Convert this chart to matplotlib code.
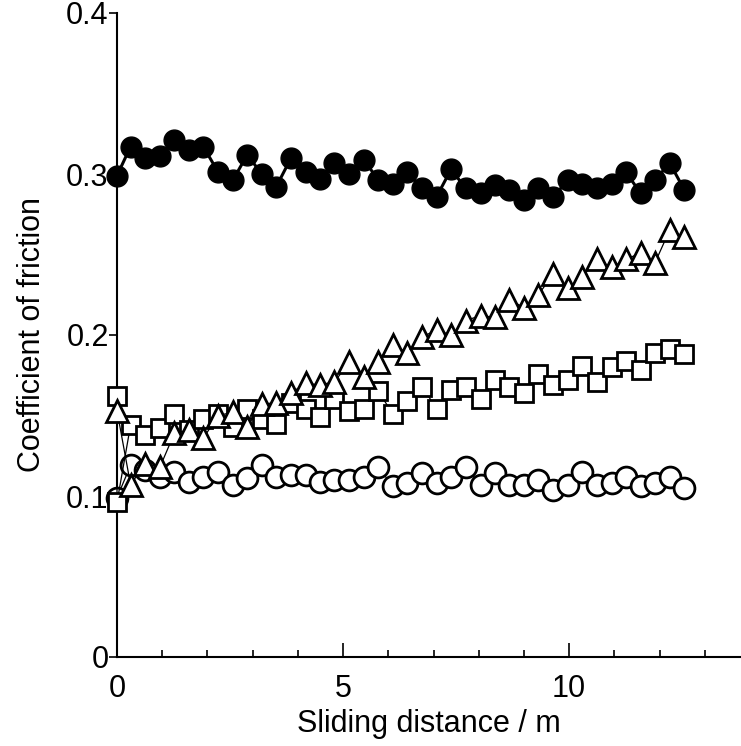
import numpy as np
import matplotlib.pyplot as plt

plt.rcParams['font.family'] = ['Liberation Sans', 'DejaVu Sans']

# sliding distance / m
x = [0, 0.30, 0.62, 0.95, 1.27, 1.59, 1.91, 2.24, 2.56, 2.88,
     3.20, 3.52, 3.85, 4.17, 4.49, 4.81, 5.14, 5.46, 5.78, 6.10,
     6.42, 6.75, 7.07, 7.39, 7.71, 8.04, 8.36, 8.68, 9.00, 9.32,
     9.65, 9.97, 10.29, 10.61, 10.94, 11.26, 11.58, 11.90, 12.22, 12.55]
# squares have two readings at 0
x_sq = [0] + x

mu_filled = [0.299, 0.317, 0.310, 0.311, 0.321, 0.315, 0.317, 0.301, 0.296, 0.312,
             0.300, 0.292, 0.310, 0.301, 0.297, 0.307, 0.300, 0.309, 0.296, 0.294,
             0.301, 0.291, 0.286, 0.303, 0.291, 0.288, 0.293, 0.290, 0.284, 0.291,
             0.286, 0.296, 0.294, 0.291, 0.294, 0.301, 0.288, 0.296, 0.307, 0.290]

mu_circle = [0.099, 0.119, 0.116, 0.112, 0.115, 0.109, 0.112, 0.115, 0.107, 0.111,
             0.119, 0.112, 0.113, 0.113, 0.109, 0.110, 0.110, 0.112, 0.118, 0.106,
             0.108, 0.114, 0.108, 0.112, 0.118, 0.107, 0.114, 0.107, 0.107, 0.110,
             0.104, 0.107, 0.115, 0.107, 0.108, 0.112, 0.106, 0.108, 0.112, 0.105]

mu_square = [0.162, 0.096,
             0.144, 0.138, 0.142, 0.151, 0.141, 0.148, 0.151, 0.143, 0.154, 0.148,
             0.145, 0.158, 0.154, 0.149, 0.160, 0.153, 0.154, 0.165, 0.151, 0.159,
             0.168, 0.154, 0.166, 0.168, 0.160, 0.172, 0.168, 0.164, 0.176, 0.169,
             0.172, 0.181, 0.171, 0.180, 0.184, 0.178, 0.189, 0.191, 0.188]

mu_tri = [0.153, 0.107, 0.120, 0.118, 0.139, 0.141, 0.136, 0.150, 0.152, 0.143,
          0.157, 0.158, 0.164, 0.170, 0.169, 0.171, 0.183, 0.174, 0.183, 0.194,
          0.189, 0.199, 0.203, 0.200, 0.209, 0.212, 0.211, 0.222, 0.217, 0.225,
          0.238, 0.229, 0.236, 0.247, 0.242, 0.247, 0.251, 0.245, 0.265, 0.261]

fig = plt.figure(figsize=(7.41, 7.46), dpi=100)
ax = fig.add_axes([117/741, 89/746, 624/741, 644/746])

ax.plot(x, mu_filled, '-o', color='k', lw=2.2, ms=15, mec='k', mfc='k', clip_on=False, zorder=5)
ax.plot(x, mu_circle, '-o', color='k', lw=0.9, ms=15, mew=2.0, mfc='w', clip_on=False, zorder=3)
ax.plot(x_sq, mu_square, '-s', color='k', lw=0.9, ms=12.5, mew=2.0, mfc='w', clip_on=False, zorder=3.5)
ax.plot(x, mu_tri, '-^', color='k', lw=0.9, ms=16, mew=2.0, mfc='w', clip_on=False, zorder=4)

ax.set_xlim(0, 13.8)
ax.set_ylim(0, 0.4)
ax.set_xticks([0, 5, 10])
ax.set_xticks(np.arange(0, 14, 1), minor=True)
ax.set_yticks([0, 0.1, 0.2, 0.3, 0.4])
ax.set_yticklabels(['0', '0.1', '0.2', '0.3', '0.4'])

for s in ['top', 'right']:
    ax.spines[s].set_visible(False)
for s in ['left', 'bottom']:
    ax.spines[s].set_linewidth(1.5)

ax.tick_params(axis='x', which='major', direction='in', length=10, width=1.2, labelsize=22, pad=12)
ax.tick_params(axis='x', which='minor', direction='in', length=5, width=1.2)
ax.tick_params(axis='y', which='major', direction='out', length=6, width=1.2, labelsize=22, pad=0)

ax.set_xlabel('Sliding distance / m', fontsize=22, labelpad=4)
ax.set_ylabel('Coefficient of friction', fontsize=22, labelpad=14)

plt.savefig('out.png', dpi=100)
